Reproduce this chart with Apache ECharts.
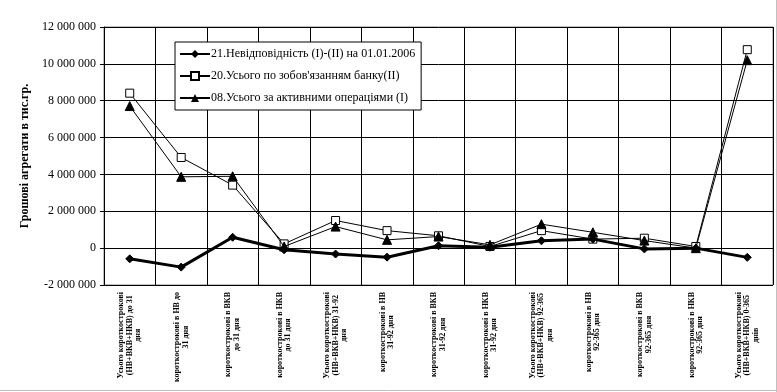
<!DOCTYPE html>
<html>
<head>
<meta charset="utf-8">
<script src="https://cdn.jsdelivr.net/npm/echarts@6/dist/echarts.min.js"></script>
<style>
html,body{margin:0;padding:0;background:#fff;}
#c{width:777px;height:392px;}
</style>
</head>
<body>
<div id="c"></div>
<script>
const categories = [
  "Усього короткострокові\n(НВ+ВКВ+НКВ) до 31\nдня",
  "короткострокові в НВ до\n31 дня",
  "короткострокові в ВКВ\nдо 31 дня",
  "короткострокові в НКВ\nдо 31 дня",
  "Усього короткострокові\n(НВ+ВКВ+НКВ) 31-92\nдня",
  "короткострокові в НВ\n31-92 дня",
  "короткострокові в ВКВ\n31-92 дня",
  "короткострокові в НКВ\n31-92 дня",
  "Усього короткострокові\n(НВ+ВКВ+НКВ) 92-365\nдня",
  "короткострокові в НВ\n92-365 дня",
  "короткострокові в ВКВ\n92-365 дня",
  "короткострокові в НКВ\n92-365 дня",
  "Усього короткострокові\n(НВ+ВКВ+НКВ) 0-365\nднів"
];
const seriesNames = [
  "21.Невідповідність (І)-(ІІ) на 01.01.2006",
  "20.Усього по зобов'язанням банку(ІІ)",
  "08.Усього за активними операціями (І)"
];
const mismatch = [-580000, -1030000, 590000, -90000, -320000, -490000, 130000, 50000, 400000, 490000, -40000, 0, -500000];
const liabilities = [8410000, 4920000, 3420000, 230000, 1500000, 950000, 670000, 90000, 950000, 490000, 540000, 90000, 10770000];
const assets = [7710000, 3870000, 3900000, 90000, 1170000, 450000, 630000, 180000, 1300000, 860000, 410000, 0, 10200000];
const yMin = -2000000, yMax = 12000000, yStep = 2000000;

function fmt(v){ return String(v).replace(/\B(?=(\d{3})+(?!\d))/g, ' '); }

const chart = echarts.init(document.getElementById('c'), null, {renderer:'canvas'});
const serif = '"Liberation Serif","Times New Roman",serif';
chart.setOption({
  animation:false,
  backgroundColor:'#fff',
  grid:{left:104,right:4,top:27,bottom:107,show:true,borderColor:'#808080',borderWidth:1,backgroundColor:'transparent'},
  legend:{
    orient:'vertical', left:175, top:42, width:252,
    backgroundColor:'#fff', borderColor:'#000', borderWidth:1,
    padding:[6,6,6,4], itemGap:10, itemWidth:30, itemHeight:10,
    textStyle:{fontFamily:serif,fontSize:12,color:'#000',padding:[0,0,0,-4]},
    data:seriesNames
  },
  xAxis:{
    type:'category', data:categories, boundaryGap:true,
    axisLine:{show:true,lineStyle:{color:'#000',width:1}},
    axisTick:{show:true,length:3,lineStyle:{color:'#000'}},
    splitLine:{show:true,interval:0,lineStyle:{color:'#000',width:1}},
    axisLabel:{
      interval:0, rotate:90, margin:7, color:'#000',
      fontFamily:serif, fontWeight:'bold', fontSize:8, lineHeight:8.5,
      formatter:function(v){ return v.split('\n').map(l=>'{c|'+l+'}').join('\n'); },
      rich:{c:{align:'center',fontFamily:serif,fontWeight:'bold',fontSize:8,lineHeight:8.5,color:'#000'}}
    }
  },
  yAxis:{
    type:'value', min:yMin, max:yMax, interval:yStep,
    name:'Грошові агрегати в тис.гр.', nameLocation:'middle', nameGap:66,
    nameTextStyle:{fontFamily:serif,fontWeight:'bold',fontSize:12,color:'#000'},
    axisLine:{show:true,lineStyle:{color:'#000',width:1}},
    axisTick:{show:true,length:4,lineStyle:{color:'#000'}},
    splitLine:{show:true,lineStyle:{color:'#000',width:1}},
    axisLabel:{formatter:fmt,fontFamily:serif,fontSize:12,color:'#000',margin:8}
  },
  series:[
    {name:seriesNames[1],type:'line',data:liabilities,symbol:'rect',symbolSize:8,
     lineStyle:{color:'#000',width:1},itemStyle:{color:'#fff',borderColor:'#000',borderWidth:1},z:3},
    {name:seriesNames[2],type:'line',data:assets,symbol:'triangle',symbolSize:9,
     lineStyle:{color:'#000',width:1},itemStyle:{color:'#000',borderColor:'#000'},z:4},
    {name:seriesNames[0],type:'line',data:mismatch,symbol:'diamond',symbolSize:8,
     lineStyle:{color:'#000',width:3},itemStyle:{color:'#000',borderColor:'#000'},z:5}
  ],
  graphic:[
    {type:'line',shape:{x1:776.5,y1:0,x2:776.5,y2:392},style:{stroke:'#c0c0c0',lineWidth:1},silent:true},
    {type:'line',shape:{x1:0,y1:390.5,x2:777,y2:390.5},style:{stroke:'#c0c0c0',lineWidth:1},silent:true}
  ]
});
</script>
</body>
</html>
